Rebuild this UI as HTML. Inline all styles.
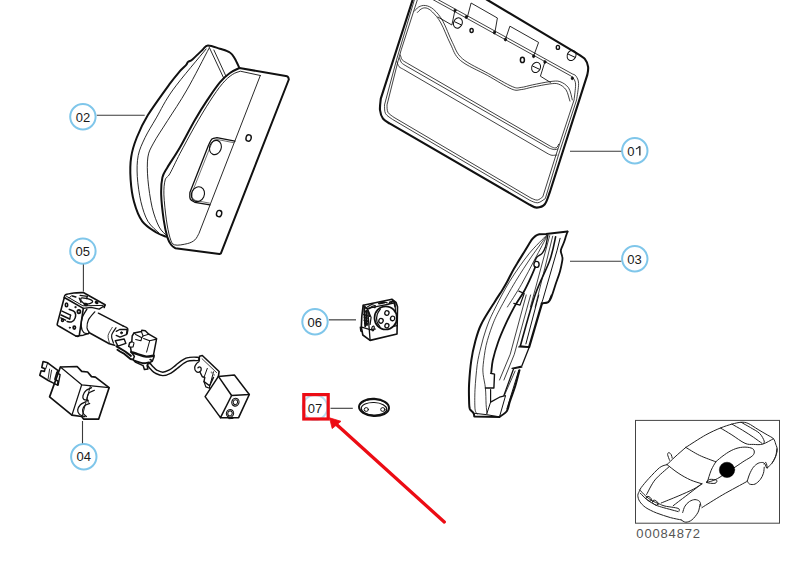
<!DOCTYPE html>
<html><head><meta charset="utf-8">
<style>
html,body{margin:0;padding:0;background:#fff;}
body{width:809px;height:573px;overflow:hidden;font-family:"Liberation Sans",sans-serif;}
svg{display:block;position:absolute;left:0;top:0;}
svg text{font-family:"Liberation Sans",sans-serif;}
.k{fill:none;stroke:#111;stroke-linecap:round;stroke-linejoin:round;}
.lbl circle{fill:#fff;stroke:#7fc6ea;stroke-width:2;}
.lbl text{font-size:13px;fill:#1a1a1a;text-anchor:middle;}
.ld{stroke:#3a3a3a;stroke-width:1.1;fill:none;}
</style></head><body>
<svg width="809" height="573" viewBox="0 0 809 573">
<!-- LABELS -->
<g class="lbl">
<circle cx="82.9" cy="116.8" r="12.7"/><text x="82.9" y="121.6">02</text>
<circle cx="634.8" cy="150.8" r="12.7"/><text x="627.2" y="155.6" style="text-anchor:start">0</text><path d="M639.85 146.2V155.6" style="stroke:#1a1a1a;stroke-width:1.25;fill:none"/><path d="M635.9 149.1Q638.3 148.1 639.5 146.2" style="stroke:#1a1a1a;stroke-width:1.1;fill:none"/>
<circle cx="634.8" cy="258.8" r="12.7"/><text x="634.4" y="263.6">03</text>
<circle cx="82.9" cy="251.1" r="12.7"/><text x="82.8" y="255.8">05</text>
<circle cx="315" cy="321.8" r="12.7"/><text x="314.8" y="326.5">06</text>
<circle cx="315" cy="407.4" r="12.4" style="stroke-opacity:0.55"/><text x="315" y="412.8">07</text>
<circle cx="83.8" cy="456.8" r="12.7"/><text x="83.8" y="461.4">04</text>
</g>
<!-- LEADERS -->
<g class="ld">
<path d="M96.8 115.3H144.7"/>
<path d="M570 151.2H621.3"/>
<path d="M570 261.3H621.3"/>
<path d="M83.4 264.6V291.5"/>
<path d="M328.9 319.8H356" style="stroke:#666;stroke-width:1.5"/>
<path d="M330.5 408.3H352.8"/>
<path d="M82.5 421V443.2"/>
</g>
<!-- part 02 -->
<path class="k" stroke-width="2" d="M166.1 236.6 C164.5 235.9 160.3 235 156.3 232.5 C152.4 229.9 146.1 226.4 142.3 221.3 C138.6 216.2 135.9 208.7 134 201.7 C132 194.7 131.1 186.8 130.6 179.4 C130.1 171.9 130.1 164 131.2 157 C132.2 150.1 134 144.5 136.8 137.5 C139.6 130.5 142.4 124.1 147.9 115.1 C153.5 106.2 164.6 91 169.9 83.7 C175.3 76.4 177.2 74.4 179.9 71.2 C182.7 68 185.1 66.3 186.4 64.7 C187.7 63.2 186.9 62.8 187.9 62 C188.9 61.1 190 61.5 192.4 59.5 C194.8 57.5 199.8 52.3 202.4 50 C205 47.7 205 45.7 207.9 45.5 C210.8 45.3 216.2 47.6 219.9 48.7 C223.5 49.9 227.4 50.8 229.9 52.5 C232.4 54.1 233.3 56.1 234.9 58.7 C236.4 61.3 238.6 66.4 239.4 68"/>
<path class="k" stroke-width="0.9" d="M206.1 49 C200.6 55.8 181.2 78.4 172.9 89.9 C164.6 101.4 160.9 110 156.3 117.9 C151.7 125.9 148.2 131.2 145.1 137.5 C142.1 143.8 139.5 149.1 138.2 155.6 C136.9 162.2 136.9 168.9 137.3 176.6 C137.8 184.3 139.2 194.3 140.9 201.7 C142.7 209.2 144.9 216.1 147.9 221.3 C151 226.5 157.2 231.1 159.1 233"/>
<path class="k" stroke-width="0.9" d="M208.9 48.5 C205.2 55.4 193.8 77.9 186.9 89.9 C180 102 173.1 111.9 167.5 120.7 C161.9 129.6 156.8 137 153.5 143.1 C150.3 149.1 148.9 151 147.9 157 C147 163.1 147.2 171 147.9 179.4 C148.6 187.8 150.3 199.4 152.1 207.3 C154 215.2 156.6 222.1 159.1 226.9 C161.6 231.6 165.6 234.3 166.9 235.8"/>
<path class="k" stroke-width="0.9" d="M209.1 47 L223.9 78.5"/>
<path class="k" stroke-width="0.9" d="M213.9 50 L226.1 76.5"/>
<path class="k" stroke-width="2" d="M239.4 68 L285.8 76 C286.2 76.1 287.5 76.4 288 77 C288.5 77.5 288.7 79 288.8 79.5 L220.9 253.3 C220.6 253.5 219.6 254 219.4 254.1 L175.4 248.3 C174.7 247.8 172.5 246.7 171.2 244.8 C169.9 243 168.7 241.5 167.4 237.4 C166.2 233.2 164.7 226.9 163.7 219.9 C162.7 212.8 161.4 202 161.2 194.9 C161 187.8 161.4 182 162.4 177.4 C163.5 172.9 164.5 172.4 167.4 167.4 C170.4 162.4 175.3 155.4 179.9 147.5 C184.5 139.6 190.3 127.9 194.9 120 C199.5 112.1 203.2 106.2 207.4 99.9 C211.6 93.7 216.1 86.9 219.9 82.4 C223.6 78 226.6 75.4 229.9 73 C233.1 70.5 237.8 68.8 239.4 68"/>
<path class="k" stroke-width="0.9" d="M260.3 75.5 L198.9 233.6 C198.2 234.6 196.8 238.2 194.9 239.9 C193 241.5 190.8 242.8 187.4 243.6 C184 244.4 177.3 245.9 174.4 244.8 C171.5 243.8 171.3 241.5 169.9 237.4 C168.6 233.2 167.4 226.9 166.4 219.9 C165.4 212.8 164.2 201.6 163.9 194.9 C163.7 188.2 164.2 183.5 165.2 179.9 C166.2 176.4 167.5 178 169.9 173.6 C172.4 169.2 175.8 161.5 179.9 153.6 C184.1 145.7 189.9 134.9 194.9 126.1 C199.9 117.4 205.3 108.2 209.9 101.2 C214.5 94.1 218.6 88.1 222.4 83.7 C226.1 79.2 229.4 76.5 232.4 74.5 C235.4 72.4 239 71.8 240.3 71.2 L260.3 75.5"/>
<path class="k" stroke-width="1.3" d="M234.9 141.2 L216.9 137.7 C216 137.9 213.3 137.8 211.9 139 C210.5 140.2 209.2 144 208.6 145 L189.9 192.4 C190 193.5 189.3 197.2 190.2 198.9 C191 200.6 194.1 201.8 194.9 202.4 L209.9 204.9"/>
<path class="k" stroke-width="0.6" d="M233.6 142.7 L217.4 139.5 C216.7 139.7 214.5 139.6 213.4 140.7 C212.3 141.8 211.1 145.1 210.6 146 L192.2 192.4 C192.2 193.3 191.8 196.5 192.4 197.9 C193 199.3 195.3 200.2 195.9 200.6 L209.4 203.1"/>
<ellipse class="k" stroke-width="1.1" cx="215.4" cy="147.5" rx="5.8" ry="7.3" transform="rotate(20 215.4 147.5)"/>
<ellipse class="k" stroke-width="1.1" cx="197.9" cy="194.2" rx="6.4" ry="7.6" transform="rotate(25 197.9 194.2)"/>
<ellipse class="k" stroke-width="1.4" cx="248.6" cy="138" rx="2.6" ry="3.2" transform="rotate(15 248.6 138)"/>
<ellipse class="k" stroke-width="1.4" cx="219.1" cy="213.6" rx="2.6" ry="3.2" transform="rotate(15 219.1 213.6)"/>
<!-- part 01 -->
<path class="k" stroke-width="2.1" d="M414.2 -5 L380.8 98.6 C380.7 100.5 379.6 106.6 380 110 C380.4 113.3 381.3 116.4 383 118.7 C384.6 121 388.8 122.9 390 123.7 L529.8 204.8 C531 205.3 534.3 207.7 536.8 207.6 C539.3 207.5 542.6 206.9 544.8 204.3 C546.9 201.8 548.9 194.3 549.8 192.3 L587.3 74.9 C587.5 73.6 588.5 69.6 588.1 66.9 C587.7 64.3 586.8 61.3 584.8 58.9 C582.8 56.6 577.5 53.9 576.1 52.9 L487.5 0 L480 -4.5"/>
<path class="k" stroke-width="0.8" d="M415.8 -5 L396.5 59.9 L384.5 104.9 C384.7 106.4 384.2 111.2 385.5 113.6 C386.8 116 391.3 118.4 392.5 119.4 L529.8 200.3 C531.1 200.8 535.2 203.1 537.8 202.8 C540.4 202.5 544 199.3 545.3 198.6 L558.5 154.9 L576.6 99.9 C576.9 97.2 578.7 87.6 578.6 83.6 C578.5 79.7 577.1 77.8 576.1 76.2 C575.1 74.5 573 74.3 572.3 73.9 L450 6.2 L435 -2"/>
<path class="k" stroke-width="0.8" d="M418.9 -5 L401.2 49.9 L398 61.2 L387 104.9 C387.1 106.1 386.8 110.3 388 112.4 C389.1 114.4 393 116.5 394 117.4 L531 198.1 C532.1 198.4 535.3 200.3 537.3 200.1 C539.2 199.9 541.9 197.4 542.8 196.8 L556 154.9 L574.1 99.9 C574.3 97.4 575.6 88.4 575.6 84.9 C575.6 81.4 574.6 80.4 573.8 78.9 C573.1 77.4 571.3 76.4 570.8 75.9 L450 9 L430 -2"/>
<path class="k" stroke-width="0.8" d="M400.4 55 C400.7 55.8 401.1 58.4 402.2 59.8 C403.3 61.2 406.4 62.6 407.2 63.2 L550.7 146.4 C551.4 146.7 553.6 147.9 554.7 148 C555.8 148.1 556.5 147.7 557.2 147 C557.8 146.4 558.4 144.8 558.6 144.3"/>
<path class="k" stroke-width="0.8" d="M399.6 58 C399.9 58.8 400.3 61.3 401.4 62.6 C402.5 63.9 405.2 65.4 406 65.9 L549.5 148.3 C550.3 148.5 553.1 149.5 554.4 149.6 C555.8 149.8 557.1 149 557.7 148.9"/>
<path class="k" stroke-width="0.8" d="M396.8 61.5 C397.2 62.4 397.9 65.3 399 66.6 C400.1 67.9 402.8 68.9 403.5 69.4 L548.2 153.9 C548.9 154.1 550.5 155.2 552 155.3 C553.4 155.5 556.1 155 556.9 155"/>
<path class="k" stroke-width="0.8" d="M414.4 11.2 C415.2 10.5 416.9 7.9 418.7 7 C420.5 6 422.9 5.1 425.4 5.5 C427.9 5.9 430.8 6.9 433.7 9.5 C436.6 12.1 439.8 15.7 442.9 21.2 C446 26.7 449.2 36.2 452.4 42.4 C455.6 48.7 456.4 53.5 462.4 58.7 C468.4 63.9 480.3 69 488.6 73.7 C496.9 78.3 506.9 84.4 512.3 86.6 C517.7 88.9 517.8 87.7 521.2 87.4 C524.5 87.1 527.6 85.9 532.4 84.9 C537.2 83.9 545.3 82.2 549.9 81.6 C554.5 81.1 556.7 80.6 559.9 81.6 C563 82.7 566.5 84.9 568.6 87.9 C570.7 90.9 571.7 97.9 572.3 99.9"/>
<path class="k" stroke-width="0.8" d="M417.4 12.5 C418.1 11.9 419.7 9.7 421.2 9 C422.6 8.2 424.3 7.5 426.2 8 C428.1 8.5 430 9.5 432.4 12 C434.9 14.5 437.9 17.6 440.9 23 C443.9 28.3 447.2 37.7 450.4 43.9 C453.6 50.2 454.2 55.2 460.4 60.4 C466.5 65.7 478.9 70.7 487.4 75.4 C495.8 80.1 505.7 86.5 511.3 88.9 C517 91.3 517.6 89.9 521.2 89.6 C524.7 89.3 527.6 88.1 532.4 87.1 C537.2 86.2 545.5 84.4 549.9 83.9 C554.2 83.4 555.9 83.1 558.6 84.1 C561.3 85.1 564.2 87.1 566.1 89.9 C568 92.7 569.2 99.3 569.9 101.1"/>
<path class="k" stroke-width="0.9" d="M467.4 17 L471.1 3 L497.4 18 L494.9 32.5"/>
<path class="k" stroke-width="0.9" d="M505.4 39.5 L509.9 26.2 L538.6 42.4 L533.6 56.2"/>
<path class="k" stroke-width="0.9" d="M454.9 10.5 L451.9 25 L437.9 17"/>
<path class="k" stroke-width="0.9" d="M544.9 61.9 L540.4 76.2 L550.4 82.4"/>
<ellipse class="k" stroke-width="1" cx="457.9" cy="23" rx="4.3" ry="5.3" transform="rotate(25 457.9 23)"/>
<path class="k" stroke-width="1" d="M454.7 21.8 L461.1 24.8"/>
<ellipse class="k" stroke-width="1" cx="536.1" cy="67.4" rx="4.3" ry="5.3" transform="rotate(25 536.1 67.4)"/>
<path class="k" stroke-width="1" d="M532.9 66.2 L539.3 69.2"/>
<ellipse class="k" stroke-width="1" cx="571.6" cy="55.4" rx="4.3" ry="5.3" transform="rotate(25 571.6 55.4)"/>
<path class="k" stroke-width="1" d="M568.4 54.2 L574.8 57.2"/>
<ellipse class="k" stroke-width="1.4" cx="471.6" cy="30.5" rx="1.6" ry="2" transform="rotate(0 471.6 30.5)"/>
<ellipse class="k" stroke-width="1.5" cx="522.4" cy="59.9" rx="2" ry="2.6" transform="rotate(0 522.4 59.9)"/>
<ellipse class="k" stroke-width="1.4" cx="557.9" cy="47.4" rx="1.6" ry="2" transform="rotate(0 557.9 47.4)"/>
<ellipse class="k" stroke-width="0.7" style="fill:#111;" cx="455" cy="10.5" rx="1.1" ry="1.5" transform="rotate(0 455 10.5)"/>
<ellipse class="k" stroke-width="0.7" style="fill:#111;" cx="466.2" cy="17" rx="1.1" ry="1.5" transform="rotate(0 466.2 17)"/>
<ellipse class="k" stroke-width="0.7" style="fill:#111;" cx="494.4" cy="32.5" rx="1.1" ry="1.5" transform="rotate(0 494.4 32.5)"/>
<ellipse class="k" stroke-width="0.7" style="fill:#111;" cx="505.4" cy="39.5" rx="1.1" ry="1.5" transform="rotate(0 505.4 39.5)"/>
<ellipse class="k" stroke-width="0.7" style="fill:#111;" cx="533.6" cy="56.2" rx="1.1" ry="1.5" transform="rotate(0 533.6 56.2)"/>
<ellipse class="k" stroke-width="0.7" style="fill:#111;" cx="544.9" cy="61.9" rx="1.1" ry="1.5" transform="rotate(0 544.9 61.9)"/>
<ellipse class="k" stroke-width="0.7" style="fill:#111;" cx="572.3" cy="78.2" rx="1.1" ry="1.5" transform="rotate(0 572.3 78.2)"/>
<!-- part 03 -->
<path class="k" stroke-width="2" d="M567.5 231.6 L546 233.9 C544.9 233.9 541.1 234 539.3 234.3 C537.6 234.7 536.8 235.1 535.6 235.9 C534.4 236.8 533.3 237.8 532.2 239.2 C531.1 240.6 530.5 241.8 528.9 244.2 C527.4 246.7 525 250.7 523 253.9 C521 257.1 518.9 260.4 517.1 263.5 C515.2 266.6 513.5 269.5 511.9 272.4 C510.3 275.4 509 278.4 507.4 281.3 C505.8 284.3 504.4 286.8 502.2 290.2 C500.1 293.6 498.3 295.9 494.8 301.7 C491.2 307.4 484.2 317.9 481 324.7 C477.7 331.5 476.6 336.5 475 342.5 C473.4 348.4 472.3 353.4 471.3 360.3 C470.3 367.1 469.5 376.7 469.1 383.6 C468.7 390.4 469 397.2 469.1 401.4 C469.2 405.6 469.1 406.8 469.8 408.8 C470.6 410.8 472.8 411.9 473.5 413.2 C474.3 414.5 474.2 416.1 474.3 416.6 L499.5 416.9 C500.7 415.9 505.2 413.6 506.9 411 C508.6 408.4 508.5 405.4 509.9 401.4 C511.2 397.3 513.5 391.7 515.1 386.5 C516.7 381.3 518.8 372.9 519.5 370.2"/>
<path class="k" stroke-width="1.8" d="M567.5 231.6 C567.3 232.4 566.6 234.2 566 236.1 C565.4 237.9 564.6 240.7 563.8 242.8 C563 244.9 561.8 247.2 561.3 248.7 C560.8 250.2 560.7 250.3 560.8 251.7 C561 253 562.1 255.4 562.3 256.9 C562.6 258.3 562.7 258.2 562.3 260.6 C561.9 262.9 561.2 267 560.1 270.9 C559 274.9 557.1 279.8 555.6 284.3 C554.2 288.7 552.4 294.7 551.2 297.6 C550 300.6 549.8 301.2 548.2 302.1 C546.6 303 542.7 303.1 541.6 303.3"/>
<path class="k" stroke-width="1" d="M541.6 303.3 L543 299.1 L557.1 250.2 L560.1 238.3"/>
<path class="k" stroke-width="0.8" d="M546.7 235.1 C543.8 238.2 535.1 246.2 528.9 253.9 C522.8 261.6 515.6 271.8 509.7 281.3 C503.8 290.9 497.5 303.4 493.6 311.3 C489.6 319.3 488.2 323.2 486.1 329.1 C484 335 482.4 341 481 346.9 C479.5 352.8 478.2 357.6 477.2 364.7 C476.3 371.8 475.4 382.2 475 389.5 C474.7 396.8 474.7 404.7 475 408.8 C475.4 412.9 476.9 413.1 477.2 414"/>
<path class="k" stroke-width="0.8" d="M547 235.3 C544.5 238.8 537.2 248.5 531.9 256.1 C526.7 263.8 521 272.4 515.6 281.3 C510.2 290.3 503.4 302.4 499.5 309.8 C495.6 317.3 494.3 320.2 492.1 326.1 C489.9 332.1 487.6 339 486.1 345.4 C484.7 351.9 483.7 359.8 483.2 364.7 C482.7 369.6 482.8 370.8 483.2 374.7 C483.6 378.5 484.9 383.1 485.4 388 C485.9 393 485.9 400.1 486.1 404.3 C486.4 408.6 486.8 412 486.9 413.5"/>
<path class="k" stroke-width="0.8" d="M547.3 235.6 C545.3 239.6 539.2 251 534.9 259.1 C530.6 267.2 526.1 276.3 521.5 284.3 C517 292.3 509.8 303.2 507.4 307"/>
<path class="k" stroke-width="1.4" d="M547.9 235.1 C547.5 237 546.5 243.5 545.6 246.5 C544.6 249.5 543.7 251.4 542.3 253.1 C540.9 254.9 538.3 255.6 537.1 256.9 C535.9 258.1 535.3 260.2 534.9 260.9"/>
<ellipse class="k" stroke-width="1.4" cx="536.5" cy="264.4" rx="2.6" ry="3" transform="rotate(0 536.5 264.4)"/>
<path class="k" stroke-width="1.8" d="M535.2 267.2 C534.4 269.1 532.3 274.3 530.4 278.4 C528.5 282.4 526.4 287 523.8 291.7 C521.1 296.5 517.4 301.4 514.3 306.9 C511.3 312.4 508.1 318.7 505.4 324.7 C502.7 330.6 500.1 336.5 498 342.5 C495.9 348.4 493.9 355.3 492.8 360.3 C491.7 365.2 491.6 370.2 491.3 372.1"/>
<path class="k" stroke-width="1.2" d="M518.9 291.1 L524.2 293.5 L520 305.1 L513.8 303.3"/>
<path class="k" stroke-width="1.4" d="M490.6 373.2 L494.5 374.1 L493.9 388 L485.4 388"/>
<path class="k" stroke-width="1.2" d="M490.6 389.5 L490.6 402.1 L499.5 397.2 L505.4 395.7"/>
<path class="k" stroke-width="0.8" d="M549.7 235.6 L530.4 307"/>
<path class="k" stroke-width="0.8" d="M552.7 236.2 L535.2 307"/>
<path class="k" stroke-width="1.6" d="M555.6 236.8 C554.7 240.8 553.1 250.9 549.7 260.6 C546.3 270.3 540 280.7 535.1 295 C530.2 309.3 522.7 337.6 520.3 346.2"/>
<path class="k" stroke-width="0.8" d="M530.6 295 L514.3 354.3 L503.9 380"/>
<path class="k" stroke-width="0.8" d="M526.2 295 L510.2 354.3 L499.5 380"/>
<path class="k" stroke-width="2.2" d="M541.8 303.9 L529.2 346.9"/>
<path class="k" stroke-width="1" d="M538.8 295 L525.9 343.9"/>
<path class="k" stroke-width="1.2" d="M541.8 303.9 L548.4 302.4 L551.4 295"/>
<path class="k" stroke-width="1.3" d="M518.8 346.9 L529.2 347.2 L521.7 366.2 L512.1 368.4"/>
<path class="k" stroke-width="1.8" d="M529.2 347.2 L520.3 346.2"/>
<path class="k" stroke-width="1.3" d="M521.7 367.2 L513.6 368.7 L503.9 395.4"/>
<path class="k" stroke-width="1" d="M518.8 370.2 L506.9 408.8"/>
<path class="k" stroke-width="0.8" d="M515.1 371 L504.7 394.7"/>
<path class="k" stroke-width="1" d="M499.5 416.9 L505.4 396.2"/>
<path class="k" stroke-width="1" d="M486.9 413.5 L490.6 402.1"/>
<path class="k" stroke-width="1" d="M473.5 413.2 L486.9 414.7 L499.5 416.9"/>
<!-- part 05 -->
<path class="k" stroke-width="1.6" d="M64.3 297.5 C64.5 297.1 64 295.6 65.6 294.8 C67.2 294 70.8 293.4 73.8 293 C76.7 292.6 81.7 292.6 83.3 292.5 L105.1 304.8 L104.2 307.5"/>
<path class="k" stroke-width="1.6" d="M64.3 297.5 L57.4 323.4 C57.4 323.7 57 324.5 57.3 325 C57.5 325.5 58.8 326.1 59.1 326.3 L76 336.1 C76.4 336.1 77.8 336.5 78.3 336.3 C78.9 336 79.2 335 79.4 334.7 L83.3 308.4 L64.3 297.5"/>
<path class="k" stroke-width="1" d="M66.5 296.3 L82.9 305.8 L102.8 305.4"/>
<path class="k" stroke-width="1.3" d="M83.3 308.4 L91 307.4 L99.2 309.1 L105.1 305.2"/>
<path class="k" stroke-width="1.3" d="M86.9 309.1 C86.2 310.4 83.4 314.2 82.4 317 C81.4 319.9 81 323.5 81.2 326.1 C81.4 328.7 82.6 331.4 83.8 332.6 C85 333.9 87.7 333.4 88.5 333.6"/>
<path class="k" stroke-width="1.2" d="M94.8 311.8 C93.8 313.1 89.8 317.1 88.5 319.8 C87.2 322.5 86.9 325.8 87 327.9 C87.2 330.1 89 331.9 89.4 332.6"/>
<path class="k" stroke-width="1.4" d="M76 336.1 L83.3 335.2 L88.3 333.6"/>
<ellipse class="k" stroke-width="1.6" cx="66.5" cy="304.9" rx="1.2" ry="1.9" transform="rotate(0 66.5 304.9)"/>
<ellipse class="k" stroke-width="1.8" cx="78.9" cy="311.6" rx="1.5" ry="1.8" transform="rotate(0 78.9 311.6)"/>
<ellipse class="k" stroke-width="1.5" cx="62.5" cy="320.3" rx="1" ry="1.3" transform="rotate(0 62.5 320.3)"/>
<ellipse class="k" stroke-width="1.7" cx="74.3" cy="327.6" rx="1.2" ry="1.5" transform="rotate(0 74.3 327.6)"/>
<ellipse class="k" stroke-width="0.8" style="fill:#111;" cx="75.4" cy="307.1" rx="0.7" ry="0.7" transform="rotate(0 75.4 307.1)"/>
<ellipse class="k" stroke-width="0.8" style="fill:#111;" cx="69.8" cy="327.7" rx="0.6" ry="0.6" transform="rotate(0 69.8 327.7)"/>
<path class="k" stroke-width="1.5" d="M69.2 309.4 C70.1 309.8 73.7 310.5 74.7 312 C75.7 313.4 75.7 316.3 75.2 317.9 C74.7 319.6 73 321.3 71.6 321.9 C70.2 322.5 67.8 321.6 67.1 321.6"/>
<path class="k" stroke-width="1.4" d="M62 311.1 L70.6 315.2"/>
<path class="k" stroke-width="1.4" d="M61.1 315 L69.7 319"/>
<path class="k" stroke-width="1.3" d="M70.6 315.2 L69.7 319"/>
<path class="k" stroke-width="1.3" d="M60.7 317.9 L65.6 320.2"/>
<path class="k" stroke-width="1.6" d="M72.4 296 L75.8 296.9"/>
<path class="k" stroke-width="1.3" d="M81.9 297.8 C83.6 297.6 89.3 299 91 299.8 C92.7 300.6 93 301.8 92.1 302.5 C91.2 303.2 87.6 304.2 85.8 304 C83.9 303.7 81.9 301.9 81.2 300.9 C80.6 299.9 80.3 298 81.9 297.8Z"/>
<path class="k" stroke-width="1.3" d="M80.1 295.4 L87.4 296.3 L86.5 298.7"/>
<path class="k" stroke-width="1.2" d="M79.2 298 L81 302.5"/>
<ellipse class="k" stroke-width="1.4" style="fill:#111;" cx="85.8" cy="304.5" rx="1.6" ry="1" transform="rotate(10 85.8 304.5)"/>
<ellipse class="k" stroke-width="1.2" style="fill:#111;" cx="96.6" cy="302.5" rx="1.4" ry="0.9" transform="rotate(20 96.6 302.5)"/>
<path class="k" stroke-width="1" d="M69.2 298 L71.5 295.7"/>
<path class="k" stroke-width="1.5" d="M98.4 313.2 L123 325.9"/>
<path class="k" stroke-width="1.6" d="M88.9 332.5 L109.3 343.7 L114.7 345.2"/>
<path class="k" stroke-width="1.4" d="M123 325.9 C123.8 326.4 127 327.3 127.7 328.6 C128.4 329.9 127.2 333.1 127.1 333.9"/>
<path class="k" stroke-width="1.2" d="M116 327.7 C115.3 329 112 332.9 111.6 335.4 C111.1 338 113.2 341.9 113.5 343.1"/>
<path class="k" stroke-width="0.8" d="M112.3 327.4 C111.6 328.8 108.6 332.8 108.1 335.4 C107.7 338.1 109.4 342.1 109.6 343.4"/>
<path class="k" stroke-width="1.3" d="M116.2 331.3 L119.7 329.5 L127.1 329.5 L126.4 334.7 L120 337.2 L116.2 335.4"/>
<ellipse class="k" stroke-width="0.9" style="fill:#111;" cx="121.5" cy="332.8" rx="1" ry="1" transform="rotate(0 121.5 332.8)"/>
<path class="k" stroke-width="1.4" d="M115.3 340.8 L124.2 339 L125.9 343.4 L117.9 346.1 L115.3 340.8"/>
<path class="k" stroke-width="2" d="M116.5 346.4 L120 348.4 L125.2 351.5 L130.9 355.9"/>
<path class="k" stroke-width="1.9" d="M117.4 349.7 L120 351.5 L124.4 353.9 L130.5 359 L133.1 359.7"/>
<path class="k" stroke-width="1.5" d="M134 332.9 L141.4 331.6 L141.8 330.3 L145.3 330.7 L148.8 334.2 L156.6 338.6 L156.2 340.8 L153.6 354.3 L154 356.9 L152.3 361.3 L147.9 363.4 L147.1 365.6 L147.9 369.1 L144.4 369.6 L143.1 365.6 L135.3 362.1 L133.1 359.5 L134.4 356.5 L131.3 352.1 L130.5 347.3 L128.7 346.4 L129.6 342.9 L131.8 341.6 L132.2 336Z"/>
<path class="k" stroke-width="1.1" d="M134 332.9 L135.7 334.4 L141.8 337.7 L143.1 336 L141.4 331.6"/>
<path class="k" stroke-width="1.1" d="M141.8 337.7 L140.9 340.8 L135.7 339.5"/>
<path class="k" stroke-width="1" d="M143.1 336 L148.8 334.2"/>
<path class="k" stroke-width="1.1" d="M143.6 338.6 L149.7 340.8 L156.5 339.1"/>
<path class="k" stroke-width="1" d="M149.7 340.8 L146.6 352.1"/>
<path class="k" stroke-width="1.1" d="M131.8 341.6 L134 342.9 L133.1 346.9 L130.5 347.3"/>
<path class="k" stroke-width="2.4" d="M131.3 352.1 C132.4 352.4 135 353.4 137.5 354.1 C139.9 354.9 143.5 356.3 146.2 356.6 C148.9 356.8 152.4 355.8 153.7 355.7"/>
<path class="k" stroke-width="1.8" d="M134.4 360.6 C135.8 361 140.3 362.9 142.7 363.2 C145.1 363.5 147.8 362.5 148.8 362.3"/>
<path class="k" stroke-width="1.6" d="M150.1 359.5 L151.8 360.4"/>
<path class="k" stroke-width="4.9" d="M149.5 365.2 C149.9 365.8 151.3 367.5 152.4 368.5 C153.5 369.6 154.4 370.8 156.1 371.7 C157.9 372.6 160.5 373.9 162.8 373.9 C165.2 373.9 167.9 372.7 170.2 371.5 C172.6 370.3 174.7 368.2 176.9 366.5 C179.1 364.8 181.5 362.5 183.6 361.3 C185.7 360 187.2 359.4 189.5 359.1 C191.8 358.7 196 358.9 197.3 358.9"/>
<path class="k" stroke-width="2" style="stroke:#fff;" d="M149.5 365.2 C149.9 365.8 151.3 367.5 152.4 368.5 C153.5 369.6 154.4 370.8 156.1 371.7 C157.9 372.6 160.5 373.9 162.8 373.9 C165.2 373.9 167.9 372.7 170.2 371.5 C172.6 370.3 174.7 368.2 176.9 366.5 C179.1 364.8 181.5 362.5 183.6 361.3 C185.7 360 187.2 359.4 189.5 359.1 C191.8 358.7 196 358.9 197.3 358.9"/>
<path class="k" stroke-width="1.6" d="M199.5 356.2 L202.3 355.5 L219.1 371.5 L218.4 376.4"/>
<path class="k" stroke-width="1.3" d="M199.5 356.7 C199.5 357.5 199.6 360 199.1 361.2 C198.6 362.3 197.2 362.6 196.5 363.7 C195.7 364.8 194.7 366.3 194.7 367.6 C194.6 368.9 195.3 370.8 196.2 371.5 C197 372.2 199 372.3 199.8 371.8 C200.7 371.3 201.3 369.6 201.2 368.7 C201.2 367.9 200.1 366.9 199.5 366.8 C199 366.6 198.1 367.7 197.9 367.9"/>
<path class="k" stroke-width="1.4" d="M199.8 371.8 L202.3 376.8 L204.8 377.4 L204 381.6 L209.6 385.7 L213.5 377.4"/>
<path class="k" stroke-width="1" d="M207.3 368.4 L204 377.4"/>
<path class="k" stroke-width="1" d="M213.5 371.8 L210.1 384.9"/>
<path class="k" stroke-width="0.8" d="M202 358.7 L216.6 372.6"/>
<path class="k" stroke-width="1.6" style="stroke:#888;" d="M211.4 372.2 L214.2 375"/>
<path class="k" stroke-width="1.2" d="M204 381.6 L205.8 386.9 L209.6 388.3 L209.6 385.7"/>
<path class="k" stroke-width="1.5" d="M218.4 376.4 L234.4 375 L249.3 394.5 L231.6 395.5Z"/>
<path class="k" stroke-width="1.5" d="M218.4 376.4 L205.1 396.6 L220.5 417.6 L231.6 395.5"/>
<path class="k" stroke-width="1.6" d="M249.3 394.5 L238.6 417.6 L220.5 417.8"/>
<ellipse class="k" stroke-width="1.1" cx="235.4" cy="402.2" rx="3.6" ry="3.9" transform="rotate(20 235.4 402.2)"/>
<ellipse class="k" stroke-width="1" cx="235.4" cy="402.2" rx="2.2" ry="2.5" transform="rotate(20 235.4 402.2)"/>
<ellipse class="k" stroke-width="1.1" cx="230" cy="413.4" rx="3.6" ry="3.9" transform="rotate(20 230 413.4)"/>
<ellipse class="k" stroke-width="1" cx="230" cy="413.4" rx="2.2" ry="2.5" transform="rotate(20 230 413.4)"/>
<path class="k" stroke-width="1" d="M228.1 416.9 L228.8 418.7 L233 418.4"/>
<!-- part 04 -->
<path class="k" stroke-width="1.6" d="M43.1 361.5 L47.7 362.8 L58.1 370.7 L56.8 372.7 L54.9 379.2 L58.1 381.2 L57.5 385.1 L53.5 383.1 L48.3 380.5 L39.8 375.3 L41.1 370.7 L44.4 371.4 L45 368.7 L41.8 367.4Z"/>
<path class="k" stroke-width="0.9" d="M49.6 369.1 L48.1 378.8"/>
<path class="k" stroke-width="0.9" d="M51.6 370.2 L49.9 379.6"/>
<path class="k" stroke-width="1" d="M47.7 362.8 L45.7 368.7"/>
<path class="k" stroke-width="1.4" d="M56.8 372.7 L60.1 374.6 L58.1 385.1"/>
<path class="k" stroke-width="1.7" d="M60.4 367 L77.1 366.5 L81.7 371.4 L87.6 372 L91.5 376.6 L95.4 377.2 L109.1 387.7 L98.7 419.1 L83.6 419.1 L81.7 416.5 L71.9 415.2 L49.6 396.9Z"/>
<path class="k" stroke-width="1.2" d="M60.4 367 L81.7 384.8 L109.1 387.7"/>
<path class="k" stroke-width="1.2" d="M81.7 384.8 L71.9 415.2"/>
<path class="k" stroke-width="0.9" d="M90.4 385.9 L82.1 416.5"/>
<path class="k" stroke-width="1.3" d="M91.5 387.7 C90.6 388.1 87.7 389 86.3 390.3 C84.8 391.6 83.4 394 83 395.6 C82.6 397.1 83 398.7 83.9 399.5 C84.8 400.3 87.5 400.1 88.2 400.3"/>
<path class="k" stroke-width="1.2" d="M94.4 390.3 C93.5 390.8 90.4 391.6 89.1 392.9 C87.9 394.2 87.2 396.6 87 398.2 C86.9 399.7 88.1 401.4 88.3 402.1"/>
<path class="k" stroke-width="1.3" d="M85.6 401.8 C84.7 402.3 81.7 403.4 80.4 404.7 C79.1 406.1 77.9 408.4 77.7 409.9 C77.6 411.5 78 413 79.2 414.1 C80.4 415.3 84 416.3 84.9 416.7"/>
<path class="k" stroke-width="1.2" d="M89.7 403.4 C88.9 403.8 86.1 404.4 84.9 405.5 C83.8 406.6 82.8 408.5 82.6 409.9 C82.4 411.3 83 412.8 83.6 413.9 C84.3 415 86 416.1 86.5 416.5"/>
<!-- part 06 -->
<path class="k" stroke-width="1.6" d="M363.2 305.2 L392.1 299.3 L396 302.3 L397.5 306.7 L397 334 L370.1 340.4 L362.8 335 L361.3 327.2 L361.8 316.4Z"/>
<path class="k" stroke-width="1.2" d="M363.2 305.2 L367.6 308.4 L395 302.8 L392.1 299.3"/>
<path class="k" stroke-width="1.3" d="M367.6 308.4 L370.1 340.4"/>
<path class="k" stroke-width="1.2" d="M370.1 329.6 L375.5 329"/>
<path class="k" stroke-width="1.2" d="M393.1 326.4 L397 325.7"/>
<path class="k" stroke-width="1.3" d="M361.8 327.2 L370.1 329.6"/>
<path class="k" stroke-width="1.1" d="M367.6 306.7 L371.6 304.5 L375.5 305.7 L374.5 307.6"/>
<path class="k" stroke-width="1.1" d="M378.4 303.7 L383.3 301.8 L387.2 302.9"/>
<path class="k" stroke-width="1.1" d="M388.2 304.2 L393.1 301.8"/>
<path class="k" stroke-width="1.1" d="M395 302.8 L395.5 311.6"/>
<path class="k" stroke-width="1.9" d="M364.2 308.6 L365.2 326.2"/>
<path class="k" stroke-width="1.7" d="M366.4 310.6 L366.9 325.2"/>
<path class="k" stroke-width="1.6" d="M363.5 306.7 L367.6 309.1"/>
<path class="k" stroke-width="1.8" d="M364.7 311.6 L366.7 311.6"/>
<path class="k" stroke-width="1.8" d="M364.5 317.4 L366.9 318.2"/>
<path class="k" stroke-width="1.8" d="M364.9 323.3 L367.2 323.9"/>
<path class="k" stroke-width="1.5" d="M369.1 308.6 L372 306.7 L375 307.6"/>
<path class="k" stroke-width="1.4" d="M368.1 310.1 L369.6 316.4"/>
<path class="k" stroke-width="1.8" d="M379.4 303.5 L384.3 302.6"/>
<path class="k" stroke-width="1.6" d="M389.6 302.3 L393.5 301"/>
<path class="k" stroke-width="1.6" d="M394 301.8 L395 306.7"/>
<path class="k" stroke-width="1.4" d="M363.7 314.5 L367.6 315.9"/>
<path class="k" stroke-width="1.4" d="M364.2 320.3 L368.1 321.3"/>
<path class="k" stroke-width="1.2" d="M368.6 311.6 L371.1 317.4 L370.1 324.3"/>
<path class="k" stroke-width="1.4" d="M360.3 327.2 L360.8 331.1 L362.3 331.6"/>
<ellipse class="k" stroke-width="1.2" cx="373" cy="328.4" rx="1.2" ry="2.4" transform="rotate(10 373 328.4)"/>
<ellipse class="k" stroke-width="1.7" cx="385.7" cy="317.9" rx="11.2" ry="11.6" transform="rotate(0 385.7 317.9)"/>
<path class="k" stroke-width="1.2" d="M380.3 309.1 C379.8 310 377.8 312.4 377.2 314.5 C376.6 316.5 376.5 319.3 376.9 321.3 C377.4 323.4 379.4 325.8 379.9 326.7"/>
<ellipse class="k" stroke-width="1.3" cx="386.9" cy="313" rx="2.1" ry="2.3" transform="rotate(20 386.9 313)"/>
<ellipse class="k" stroke-width="1.3" cx="392.6" cy="318.4" rx="2.1" ry="2.3" transform="rotate(20 392.6 318.4)"/>
<ellipse class="k" stroke-width="1.3" cx="381" cy="320.8" rx="2.2" ry="2.4" transform="rotate(20 381 320.8)"/>
<ellipse class="k" stroke-width="1.3" cx="386.9" cy="325.7" rx="2" ry="2.2" transform="rotate(20 386.9 325.7)"/>
<!-- part 07 -->
<ellipse class="k" stroke-width="2" cx="374" cy="407.4" rx="15" ry="8.6" transform="rotate(3 374 407.4)"/>
<ellipse class="k" stroke-width="1.2" cx="374" cy="408.8" rx="12.8" ry="6.3" transform="rotate(2 374 408.8)"/>
<path class="k" stroke-width="1" d="M360.5 404.5 C361.4 403.9 363.8 401.4 366 400.6 C368.2 399.8 371.3 399.6 374 399.6 C376.7 399.6 379.7 400 382 400.8 C384.3 401.6 386.7 404 387.6 404.6"/>
<ellipse class="k" stroke-width="1" cx="366.3" cy="409.5" rx="2.1" ry="1.9" transform="rotate(0 366.3 409.5)"/>
<ellipse class="k" stroke-width="1" cx="382.8" cy="409.5" rx="2.1" ry="1.9" transform="rotate(0 382.8 409.5)"/>
<!-- red box + arrow -->
<rect x="303.8" y="394.6" width="24.4" height="24.4" fill="none" stroke="#ec0c14" stroke-width="3.2"/>
<path d="M444.3 522 L336 424" stroke="#ec0c14" stroke-width="3.3" fill="none" stroke-linecap="round"/>
<path d="M329.5 417.8 L341 421.3 L332.2 428.6 Z" fill="#ec0c14" stroke="#ec0c14" stroke-width="0.8" stroke-linejoin="round"/>
<!-- car thumbnail -->
<rect x="635.5" y="420.4" width="144" height="102.8" fill="#fff" stroke="#444" stroke-width="1"/>
<path class="k" stroke-width="1" style="stroke:#222;" d="M685.8 447.4 C684 449 678.1 454 675 456.9 C671.9 459.8 668.4 463.3 667 464.6"/>
<path class="k" stroke-width="1" style="stroke:#222;" d="M669.6 460.3 C669.3 459.3 667.8 455.9 667.6 454.6 C667.5 453.3 668.3 452.6 668.9 452.6 C669.5 452.6 670.6 453.7 671.2 454.6 C671.7 455.5 672.1 457.5 672.2 458.1"/>
<path class="k" stroke-width="1" style="stroke:#222;" d="M667 464.6 C668.9 466 674.2 470.5 678.1 473 C682 475.6 686.4 478.1 690.4 479.9 C694.3 481.7 700 483.1 701.9 483.8"/>
<path class="k" stroke-width="1" style="stroke:#222;" d="M685.8 447.4 C688.1 448.7 694.6 453 699.6 455.4 C704.6 457.8 713.1 460.7 715.8 461.8"/>
<path class="k" stroke-width="1" style="stroke:#222;" d="M667 464.6 C665.8 465.1 662.7 465.3 659.6 467.6 C656.6 470 652 475.1 648.9 478.4 C645.8 481.7 642.9 485.3 641.2 487.6 C639.6 489.9 639.5 490.9 638.9 492.2 C638.3 493.6 637.7 494.1 637.8 495.6 C638 497.1 638.3 499.4 639.7 501.4 C641 503.4 643 505.7 645.8 507.6 C648.6 509.5 652.5 511.3 656.6 513 C660.7 514.6 666.3 516.4 670.4 517.6 C674.5 518.7 679.4 519.5 681.2 519.9"/>
<path class="k" stroke-width="1" style="stroke:#222;" d="M668.9 466.9 C666.6 469.1 658.8 475.3 655 479.9 C651.3 484.5 648 492.1 646.6 494.5"/>
<path class="k" stroke-width="1" style="stroke:#222;" d="M701.9 483.8 C700.5 484.7 697.4 487.1 693.4 489.2 C689.5 491.2 683.5 493.8 678.1 496.1 C672.7 498.4 664 501.8 661.2 503"/>
<path class="k" stroke-width="1" style="stroke:#222;" d="M701.9 483.8 C701.1 484.4 700 485.3 697.3 487.3 C694.6 489.4 689.8 493 685.8 496.1 C681.7 499.1 675.3 504.1 673.2 505.7"/>
<path class="k" stroke-width="1" style="stroke:#222;" d="M639.7 489.9 C640.7 490.9 643.8 494.3 645.8 496.1 C647.9 497.9 649.8 499.4 652 500.7 C654.1 502 656.7 502.9 658.9 503.7 C661.1 504.6 661.8 505.3 665 506.1 C668.2 506.8 675.8 507.5 678.1 508.4 C680.4 509.2 678.9 510.5 679 511"/>
<path class="k" stroke-width="1" style="stroke:#222;" d="M640.4 493.3 C641.5 494.3 644.4 497.7 646.6 499.4 C648.8 501.2 651.3 502.7 653.5 503.9 C655.7 505.1 655.6 505.2 659.6 506.5 C663.7 507.8 675 510.7 678.1 511.6"/>
<ellipse class="k" stroke-width="0.9" style="stroke:#222;" cx="648.9" cy="498.8" rx="3.1" ry="1.9" transform="rotate(38 648.9 498.8)"/>
<ellipse class="k" stroke-width="0.9" style="stroke:#222;" cx="655.3" cy="502.7" rx="3.3" ry="2" transform="rotate(35 655.3 502.7)"/>
<path class="k" stroke-width="1" style="stroke:#222;" d="M682.7 512.5 C683.1 511.4 683.8 507.9 685 506.1 C686.1 504.2 687.9 502.5 689.6 501.4 C691.3 500.4 693.3 499.6 695 499.6 C696.6 499.6 698.6 500.4 699.6 501.4 C700.6 502.5 700.6 505.3 700.8 506.1"/>
<path class="k" stroke-width="1" style="stroke:#222;" d="M681.2 519.9 C681.9 520.3 684 522.2 685.8 522.2 C687.6 522.2 689.9 521.5 691.9 519.9 C694 518.2 696.7 514.8 698.1 512.2 C699.4 509.6 699.6 505.8 699.9 504.5"/>
<path class="k" stroke-width="1" style="stroke:#222;" d="M685.8 447.4 C689.1 445.3 700 438.1 705.8 434.9 C711.6 431.7 716.1 429.8 720.4 428 C724.8 426.2 728.5 425.1 731.9 424.1 C735.4 423.2 738.5 422.4 741.2 422.3 C743.8 422.2 745.3 422.2 748.1 423.4 C750.9 424.6 754.9 427.6 758.1 429.5 C761.3 431.4 764.7 433.4 767.3 434.9 C769.8 436.4 772 437.2 773.4 438.7 C774.8 440.3 775.1 442.2 775.7 444.1 C776.4 446 777.4 448 777.3 450.3 C777.1 452.6 775.8 455.8 774.9 457.9 C774.1 460.1 773.2 461.7 771.9 463.3 C770.6 465 768 467.2 767.3 467.9"/>
<path class="k" stroke-width="1" style="stroke:#222;" d="M720.4 428 C722.3 429.1 727.8 432.3 731.9 434.9 C736 437.5 741.4 441.8 745 443.3 C748.6 444.9 750.5 444.3 753.4 444.4 C756.4 444.5 759.3 445.1 762.7 444.1 C766 443.2 771.6 439.6 773.4 438.7"/>
<path class="k" stroke-width="1" style="stroke:#222;" d="M731.9 424.1 C733.7 425.2 739.1 428.1 742.7 430.3 C746.3 432.5 750.2 435 753.4 437.2 C756.6 439.4 760.5 442.3 761.9 443.3"/>
<path class="k" stroke-width="1" style="stroke:#222;" d="M741.2 422.3 C742.7 423.2 747.3 425.7 750.4 427.5 C753.4 429.4 757.3 431.1 759.6 433.4 C761.9 435.6 763.6 439.3 764.2 441 C764.8 442.8 763.2 443.3 763 443.8"/>
<path class="k" stroke-width="1" style="stroke:#222;" d="M715.8 461.8 C717.2 460.6 721.3 456.9 724.3 454.9 C727.2 452.8 730.4 450.8 733.5 449.5 C736.5 448.2 739.7 447.4 742.7 447.2 C745.6 446.9 749.2 447.3 751.1 448 C753.1 448.6 754 449.7 754.2 451 C754.5 452.3 754.3 454 752.7 455.6 C751 457.3 747.2 459.1 744.2 461 C741.3 462.9 739.5 464.2 735 467.2 C730.5 470.1 722.1 476.1 717.3 478.7 C712.6 481.2 708.4 481.9 706.6 482.5"/>
<path class="k" stroke-width="1" style="stroke:#222;" d="M715.8 461.8 C715 463.2 712.6 466.9 711.2 470.2 C709.8 473.6 708 479.8 707.4 481.7"/>
<path class="k" stroke-width="1" style="stroke:#222;" d="M706.6 482.5 C705.7 481.9 708 479.8 709.7 479.4 C711.3 479.1 715.7 479.6 716.6 480.2 C717.5 480.9 716.7 482.9 715 483.3 C713.4 483.7 707.5 483.2 706.6 482.5Z"/>
<path class="k" stroke-width="1" style="stroke:#222;" d="M747.3 481 C747.7 479.8 748.6 476.4 749.6 474.1 C750.6 471.8 752 468.9 753.4 467.2 C754.9 465.4 756.5 464.1 758.1 463.3 C759.6 462.5 761.5 462.4 762.7 462.5 C763.8 462.7 764.3 463.2 765 464.1 C765.6 465 766.2 467.3 766.5 467.9"/>
<path class="k" stroke-width="1" style="stroke:#222;" d="M747.3 481 C747.7 481.5 748.3 483.5 749.6 484.1 C750.9 484.6 753.2 484.8 755 484.1 C756.8 483.3 758.9 481.2 760.4 479.4 C761.8 477.7 762.8 475.3 763.4 473.3 C764.1 471.3 764.1 468.2 764.2 467.2"/>
<path class="k" stroke-width="1" style="stroke:#222;" d="M701.9 507.6 C705.4 505.5 715.3 499.1 722.7 494.8 C730.2 490.5 742.6 483.9 746.5 481.7"/>
<path class="k" stroke-width="1" style="stroke:#222;" d="M771.9 463.3 C772.5 462.2 774.9 458.8 775.7 456.4 C776.5 454 776.6 450 776.8 448.7"/>
<path class="k" stroke-width="1" style="stroke:#222;" d="M764.2 464.1 C764.5 463.8 765.5 461.9 766 462.5 C766.6 463.2 767.1 467 767.3 467.9"/>
<ellipse class="k" stroke-width="0.5" style="stroke:#000;fill:#000;" cx="727" cy="469.9" rx="7.7" ry="7.7" transform="rotate(0 727 469.9)"/>
<text x="636.3" y="538" font-size="13" fill="#555" letter-spacing="0.85">00084872</text>
</svg>
</body></html>
